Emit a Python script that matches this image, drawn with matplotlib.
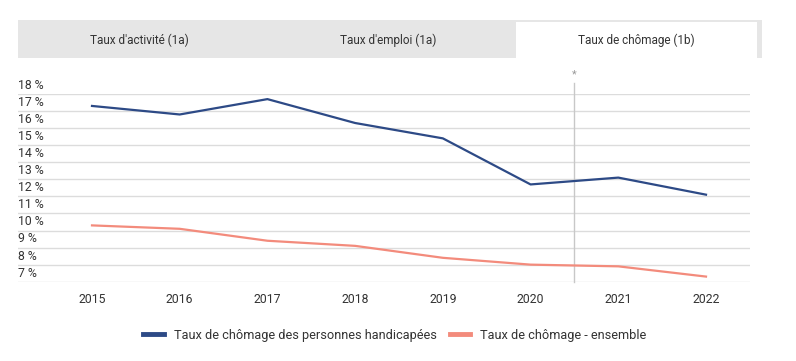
import matplotlib
matplotlib.use("Agg")
import matplotlib.pyplot as plt
from matplotlib.patches import Rectangle
from matplotlib.lines import Line2D

plt.rcParams['font.family'] = ['Roboto', 'DejaVu Sans']

# données
annees = [2015, 2016, 2017, 2018, 2019, 2020, 2021, 2022]
chomage_handicap = [17.3, 16.8, 17.7, 16.3, 15.4, 12.7, 13.1, 12.1]
chomage_ensemble = [10.3, 10.1, 9.4, 9.1, 8.4, 8.0, 7.9, 7.3]
graduations = list(range(7, 19))
onglets = ["Taux d'activité (1a)", "Taux d'emploi (1a)", "Taux de chômage (1b)"]
series_labels = ["Taux de chômage des personnes handicapées", "Taux de chômage - ensemble"]

bleu = "#2d4a86"
saumon = "#f38b7c"
texte = "#333333"

W, H = 796, 361
fig = plt.figure(figsize=(W / 100, H / 100), dpi=100)

# %% onglets en haut
bar = fig.add_axes([0, 0, 1, 1])
bar.set_xlim(0, W)
bar.set_ylim(H, 0)
bar.axis('off')
bar.add_patch(Rectangle((18, 20), 744, 38, facecolor="#e6e6e6", edgecolor="none"))
bar.add_patch(Rectangle((516, 22), 241, 37, facecolor="white", edgecolor="none"))
for cx, t in zip([139, 388, 636], onglets):
    bar.text(cx, 40, t, ha='center', va='center', fontsize=8.5, color=texte)

# %% graphique
left, right = 18, 750
top, bottom = 94, 281.7
ax = fig.add_axes([left / W, 1 - bottom / H, (right - left) / W, (bottom - top) / H])
px_an = (706 - 92) / 7
ax.set_xlim(2015 - (92 - left) / px_an, 2022 + (right - 706) / px_an)
ax.set_ylim(7, 18)

ax.set_yticks(graduations)
ax.set_yticklabels([])
ax.grid(axis='y', color="#dcdcdc", linewidth=1)
ax.tick_params(axis='y', length=0)
ax.set_xticks(annees)
ax.set_xticklabels([str(a) for a in annees], fontsize=8.8, color=texte)
ax.tick_params(axis='x', length=0, pad=8)
for s in ax.spines.values():
    s.set_visible(False)
ax.set_axisbelow(True)

for v in graduations:
    ax.annotate(f"{v} %", xy=(0, v), xycoords=('axes fraction', 'data'),
                xytext=(0, 1.5), textcoords='offset points',
                ha='left', va='bottom', fontsize=8.8, color=texte)

# rupture de série
ypx = 17.06
ax.plot([2020.5, 2020.5], [7, 18 + 11 / ypx], color="#c8c8c8", linewidth=1, clip_on=False)
ax.text(2020.5, 18 + 20 / ypx, "*", ha='center', va='center', fontsize=8, color="#999999")

ax.plot(annees, chomage_handicap, color=bleu, linewidth=1.6, solid_joinstyle='round')
ax.plot(annees, chomage_ensemble, color=saumon, linewidth=1.6, solid_joinstyle='round')

handles = [Line2D([], [], color=bleu, linewidth=3.5),
           Line2D([], [], color=saumon, linewidth=3.5)]
fig.legend(handles, series_labels, loc='center', bbox_to_anchor=(395 / W, 1 - 335 / H),
           ncol=2, frameon=False, fontsize=9.2, handlelength=1.6, handletextpad=0.8,
           columnspacing=1.0, labelcolor=texte)

fig.savefig("out.png", dpi=100)
